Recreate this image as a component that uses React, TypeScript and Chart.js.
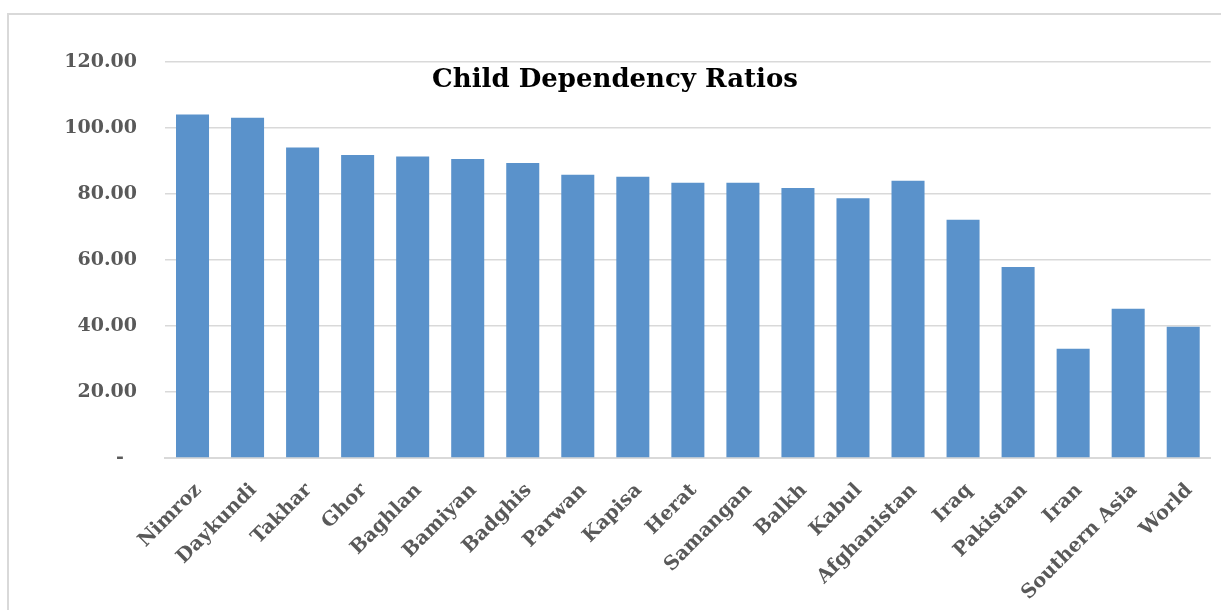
import React, { useEffect, useRef } from "react";
import { Chart, registerables } from "chart.js";

Chart.register(...registerables);

const TITLE = "Child Dependency Ratios";
const categories = [
  "Nimroz", "Daykundi", "Takhar", "Ghor", "Baghlan", "Bamiyan", "Badghis",
  "Parwan", "Kapisa", "Herat", "Samangan", "Balkh", "Kabul", "Afghanistan",
  "Iraq", "Pakistan", "Iran", "Southern Asia", "World",
];
const ratios = [
  104.1, 103.1, 94.1, 91.8, 91.4, 90.6, 89.4,
  85.8, 85.2, 83.4, 83.4, 81.8, 78.7, 84.0,
  72.2, 57.9, 33.1, 45.2, 39.8,
];
const yTicks = [0, 20, 40, 60, 80, 100, 120];

const FONT = "'DejaVu Serif', serif";

const titlePlugin = {
  id: "excelTitle",
  afterDraw(chart: any) {
    const ctx = chart.ctx;
    ctx.save();
    ctx.font = `bold 26px ${FONT}`;
    ctx.fillStyle = "#000000";
    ctx.textAlign = "center";
    ctx.textBaseline = "alphabetic";
    ctx.fillText(TITLE, 615, 87);
    ctx.restore();
  },
};

export default function App() {
  const ref = useRef<HTMLCanvasElement | null>(null);
  useEffect(() => {
    if (!ref.current) return;
    const chart = new Chart(ref.current, {
      type: "bar",
      data: {
        labels: categories,
        datasets: [
          {
            label: TITLE,
            data: ratios,
            backgroundColor: "#5a92cb",
            borderWidth: 0,
            barPercentage: 0.6,
            categoryPercentage: 1,
          },
        ],
      },
      plugins: [titlePlugin],
      options: {
        responsive: false,
        animation: false,
        layout: { padding: { top: 62, left: 0, right: 9, bottom: 0 } },
        plugins: {
          legend: { display: false },
          title: { display: false },
          tooltip: { enabled: false },
        },
        scales: {
          x: {
            grid: { display: false, drawTicks: false },
            border: { display: true, color: "#d9d9d9", width: 2 },
            ticks: {
              color: "#595959",
              font: { family: FONT, size: 19.5, weight: "bold" },
              minRotation: 45,
              maxRotation: 45,
              autoSkip: false,
              padding: 21,
              labelOffset: 6,
            },
            afterFit(scale: any) {
              scale.height = 152;
            },
          },
          y: {
            min: 0,
            max: 120,
            afterBuildTicks(scale: any) {
              scale.ticks = yTicks.map((v) => ({ value: v }));
            },
            grid: { color: "#d9d9d9", lineWidth: 1.5, drawTicks: false },
            border: { display: false },
            ticks: {
              color: "#595959",
              font: { family: FONT, size: 19, weight: "bold" },
              padding: 28,
              callback: (v: any) => (Number(v) === 0 ? "-  " : Number(v).toFixed(2)),
            },
            afterFit(scale: any) {
              scale.width = 165;
            },
          },
        },
      },
    });
    return () => chart.destroy();
  }, []);

  return (
    <div
      style={{
        position: "absolute",
        left: 0,
        top: 0,
        width: 1221,
        height: 610,
        overflow: "hidden",
        background: "#ffffff",
      }}
    >
      <div
        style={{
          position: "absolute",
          left: 7,
          top: 13,
          width: 1400,
          height: 800,
          borderLeft: "2px solid #d9d9d9",
          borderTop: "2px solid #d9d9d9",
        }}
      />
      <canvas
        ref={ref}
        width={1221}
        height={610}
        style={{ position: "absolute", left: 0, top: 0 }}
      />
    </div>
  );
}
